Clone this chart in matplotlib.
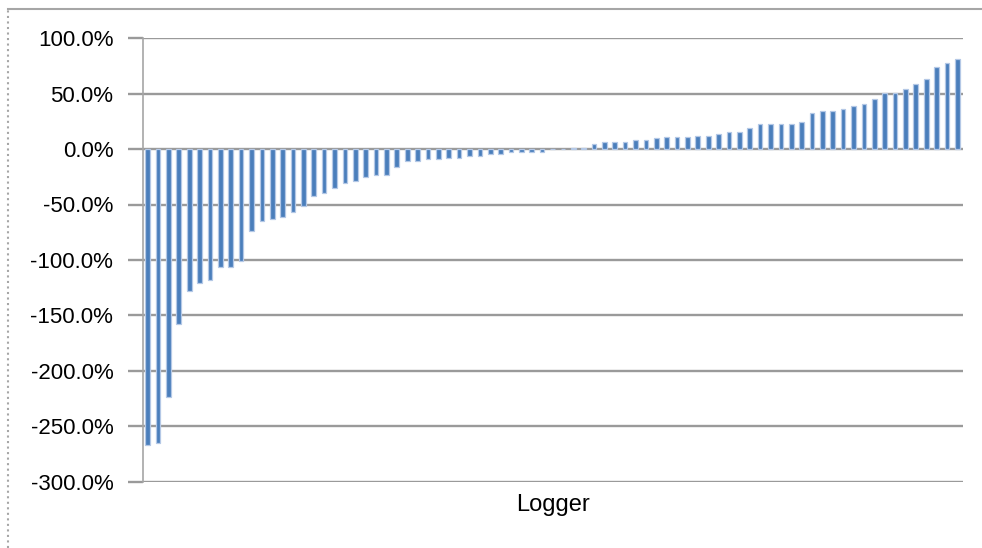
import matplotlib.pyplot as plt
from matplotlib.lines import Line2D
from matplotlib.ticker import FuncFormatter, MultipleLocator

plt.rcParams['font.family'] = ['Liberation Sans', 'DejaVu Sans']

# logger별 편차 (%), 오름차순
loggers = ['L%d' % i for i in range(1, 80)]
deviation = [
    -267, -265, -224, -158, -128, -121, -118, -106, -106, -101,
    -74, -65, -63, -61, -57, -51, -42, -40, -35, -31,
    -29, -25, -23.5, -23, -16, -10.5, -10.5, -9, -9, -8,
    -8, -6, -6, -4.5, -4.5, -3, -3, -2.5, -2.5, 0,
    0.5, 0.8, 1, 5, 6.5, 6.5, 6.5, 8.5, 8.5, 10,
    11, 11, 11, 12, 12, 13.5, 15.5, 15.5, 19, 22.5,
    22.5, 22.5, 23, 24.5, 33, 34.5, 34.5, 36, 39, 41,
    45, 50.5, 50.5, 54, 58.5, 63.5, 74.5, 77.5, 81,
]

fig = plt.figure(figsize=(9.82, 5.48), dpi=100)
ax = fig.add_axes([142.5 / 982, 1 - 481.5 / 548, 820 / 982, 443.2 / 548])

x = list(range(len(loggers)))
ax.bar(x, deviation, width=0.45, color='#4A7EBB', edgecolor='#B4C8E6', linewidth=0.9, zorder=3)

ax.set_xlim(-0.5, len(loggers) - 0.5)
ax.set_ylim(-300, 100)
ax.yaxis.set_major_locator(MultipleLocator(50))
ax.yaxis.set_major_formatter(FuncFormatter(lambda v, p: '%.1f%%' % v))
ax.set_xticks([])

# 격자선
ax.grid(axis='y', color='#9A9A9A', linewidth=1.7, zorder=0)
for s in ['top', 'right', 'bottom']:
    ax.spines[s].set_visible(False)
ax.spines['left'].set_color('#A6A6A6')
ax.spines['left'].set_linewidth(1.2)
ax.tick_params(axis='y', length=11, width=1.7, color='#9A9A9A', pad=10, labelsize=16)

ax.set_xlabel('Logger', fontsize=17, labelpad=9)

# 차트 테두리
fig.add_artist(Line2D([8 / 982, 1], [1 - 9 / 548, 1 - 9 / 548], color='#A6A6A6', linewidth=1.5))
fig.add_artist(Line2D([8 / 982, 8 / 982], [0, 1 - 9 / 548], color='#A6A6A6', linewidth=1.5, linestyle=':'))

plt.savefig('out.png', dpi=100)
